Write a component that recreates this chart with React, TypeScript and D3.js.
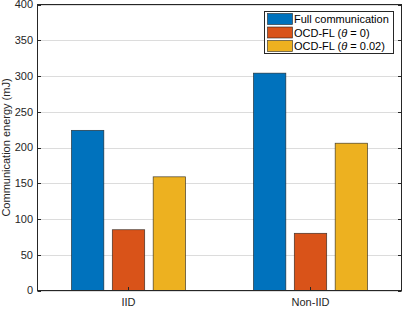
import React from "react";
import * as d3 from "d3";

const categories = ["IID", "Non-IID"];
const seriesNames = ["Full communication", "OCD-FL (θ = 0)", "OCD-FL (θ = 0.02)"];
const fullComm = [224, 304];
const ocdTheta0 = [85, 80];
const ocdTheta002 = [159, 206];
const yTicks = [0, 50, 100, 150, 200, 250, 300, 350, 400];
const colors = ["#0072BD", "#D95319", "#EDB120"];

const W = 407, H = 310;
const left = 37.5, right = 401.5, top = 4.5, bottom = 290.5;
const font = "'Liberation Sans', Arial, Helvetica, sans-serif";

export default function App() {
  const series = [fullComm, ocdTheta0, ocdTheta002];
  const x = d3.scaleLinear().domain([0.5, 2.5]).range([left, right]);
  const y = d3.scaleLinear().domain([0, 400]).range([bottom, top]);
  const offset = 0.2245;
  const bw = 0.178;
  const legendRows = [
    { label: <tspan>Full communication</tspan> },
    { label: <tspan>OCD-FL (<tspan fontStyle="italic">θ</tspan> = 0)</tspan> },
    { label: <tspan>OCD-FL (<tspan fontStyle="italic">θ</tspan> = 0.02)</tspan> },
  ];
  return (
    <svg width={W} height={H} style={{ position: "absolute", left: 0, top: 0, background: "#fff" }} fontFamily={font}>
      <rect x={0} y={0} width={W} height={H} fill="#fff" />
      {yTicks.map((t) => (
        <line key={"g" + t} x1={left} x2={right} y1={Math.round(y(t)) + 0.5} y2={Math.round(y(t)) + 0.5} stroke="#dcdcdc" strokeWidth={1} />
      ))}
      {categories.map((c, ci) =>
        series.map((s, si) => {
          const cx = x(ci + 1) + (si - 1) * offset * (x(1) - x(0));
          const w = bw * (x(1) - x(0));
          return (
            <rect key={c + si} x={cx - w / 2} y={y(s[ci])} width={w} height={y(0) - y(s[ci])} fill={colors[si]} stroke="#1a1a1a" strokeOpacity={0.8} strokeWidth={0.7} />
          );
        })
      )}
      <rect x={left} y={top} width={right - left} height={bottom - top} fill="none" stroke="#262626" strokeWidth={1} />
      {yTicks.map((t) => (
        <g key={"t" + t}>
          <line x1={left} x2={left + 3.5} y1={Math.round(y(t)) + 0.5} y2={Math.round(y(t)) + 0.5} stroke="#262626" />
          <line x1={right - 3.5} x2={right} y1={Math.round(y(t)) + 0.5} y2={Math.round(y(t)) + 0.5} stroke="#262626" />
          <text x={33} y={y(t) + 3.8} textAnchor="end" fontSize={11} fill="#262626">{t}</text>
        </g>
      ))}
      {categories.map((c, ci) => (
        <g key={"x" + c}>
          <line x1={x(ci + 1)} x2={x(ci + 1)} y1={bottom} y2={bottom - 3.5} stroke="#262626" />
          <text x={x(ci + 1)} y={306} textAnchor="middle" fontSize={11} fill="#262626">{c}</text>
        </g>
      ))}
      <text transform={`translate(10, ${(top + bottom) / 2}) rotate(-90)`} textAnchor="middle" fontSize={11} fill="#262626">Communication energy (mJ)</text>
      <rect x={264.5} y={11.5} width={129} height={42} fill="#fff" stroke="#262626" strokeWidth={1} />
      {legendRows.map((r, i) => (
        <g key={"l" + i}>
          <rect x={267.5} y={13.5 + i * 13.5} width={25} height={11} fill={colors[i]} stroke="#1a1a1a" strokeOpacity={0.8} strokeWidth={0.7} />
          <text x={294} y={23 + i * 13.5} fontSize={11} fill="#000" aria-label={seriesNames[i]}>{r.label}</text>
        </g>
      ))}
    </svg>
  );
}
